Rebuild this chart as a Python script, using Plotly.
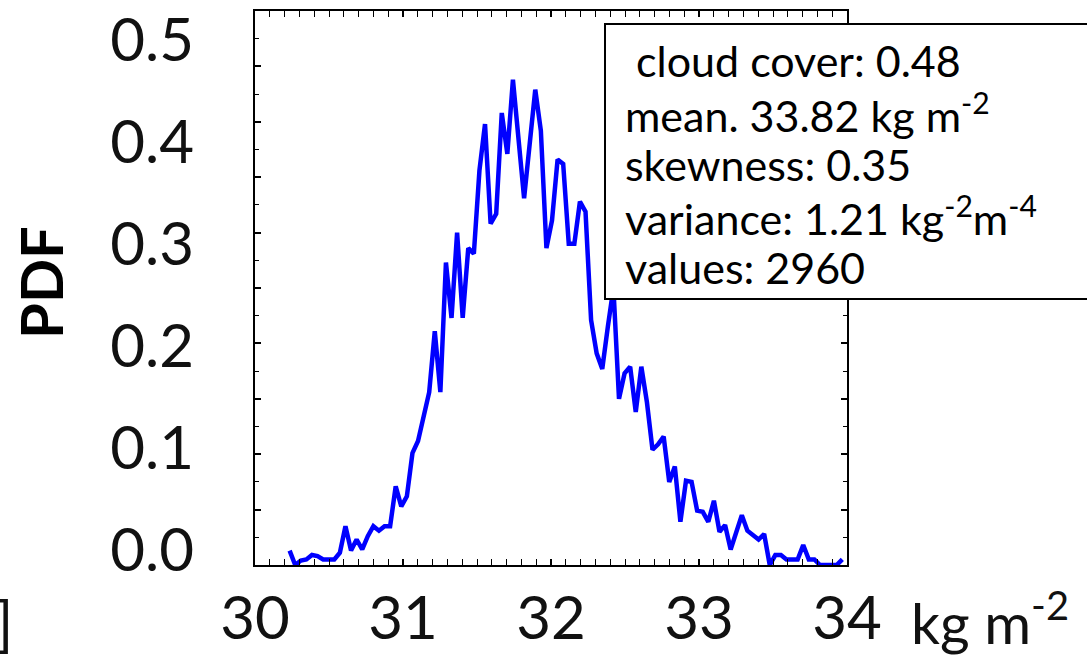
import numpy as np
import plotly.graph_objects as go

# Histogram of the column values: 100 bins, probability density per bin
bin_first_center = 30.234
bin_width = 0.03772
pdf = [0.013, 0.000, 0.004, 0.005, 0.009, 0.008, 0.005, 0.005, 0.005, 0.011,
       0.035, 0.013, 0.023, 0.014, 0.026, 0.035, 0.031, 0.035, 0.035, 0.071,
       0.053, 0.062, 0.101, 0.112, 0.134, 0.156, 0.211, 0.156, 0.273, 0.223,
       0.300, 0.223, 0.286, 0.281, 0.356, 0.398, 0.308, 0.317, 0.408, 0.371,
       0.438, 0.385, 0.331, 0.380, 0.429, 0.392, 0.286, 0.311, 0.366, 0.362,
       0.290, 0.290, 0.328, 0.319, 0.221, 0.191, 0.177, 0.215, 0.250, 0.150,
       0.173, 0.179, 0.138, 0.179, 0.147, 0.104, 0.109, 0.116, 0.075, 0.089,
       0.039, 0.076, 0.075, 0.049, 0.048, 0.039, 0.058, 0.030, 0.036, 0.014,
       0.030, 0.045, 0.031, 0.027, 0.023, 0.028, 0.000, 0.009, 0.009, 0.005,
       0.005, 0.005, 0.018, 0.005, 0.005, 0.000, 0.000, 0.000, 0.000, 0.005]
bin_centers = bin_first_center + bin_width * np.arange(len(pdf))

x_ticks = [30, 31, 32, 33, 34]
x_tick_labels = ["30", "31", "32", "33", "34"]
y_ticks = [0.0, 0.1, 0.2, 0.3, 0.4, 0.5]
y_tick_labels = ["0.0", "0.1", "0.2", "0.3", "0.4", "0.5"]

stats_lines = [
    " cloud cover: 0.48",
    "mean. 33.82 kg m<sup>-2</sup>",
    "skewness: 0.35",
    "variance: 1.21 kg<sup>-2</sup>m<sup>-4</sup>",
    "values: 2960",
]

W, H = 1087, 659
L, R, T, B = 255, 240, 11, 94
PW, PH = W - L - R, H - T - B

def px(xp):
    return (xp - L) / PW

def py(yp):
    return (H - B - yp) / PH

FONT = "Lato"
fig = go.Figure()

fig.add_trace(go.Scatter(
    x=bin_centers, y=pdf, mode="lines",
    line=dict(color="#0000ff", width=4.5),
    showlegend=False, hoverinfo="skip",
))
# carrier for the label-only y axis
fig.add_trace(go.Scatter(x=[None], y=[None], yaxis="y2", showlegend=False))

fig.update_layout(
    width=W, height=H, autosize=False,
    margin=dict(l=L, r=R, t=T, b=B, pad=0),
    plot_bgcolor="white", paper_bgcolor="white",
    font=dict(family=FONT, color="#111111"),
    xaxis=dict(
        range=[30, 34], tickvals=x_ticks, ticktext=x_tick_labels,
        ticks="inside", ticklen=6, tickwidth=1.5, tickcolor="black",
        minor=dict(dtick=0.1, ticks="inside", ticklen=3, tickwidth=1, tickcolor="black"),
        showline=True, linecolor="black", linewidth=2, mirror="allticks",
        showgrid=False, zeroline=False, automargin=False,
        tickfont=dict(size=60, family=FONT, color="#111111"),
        ticklabelstandoff=0,
    ),
    yaxis=dict(
        range=[0, 0.5], dtick=0.05, tick0=0, showticklabels=False,
        ticks="inside", ticklen=6, tickwidth=1.5, tickcolor="black",
        minor=dict(dtick=0.025, ticks="inside", ticklen=4, tickwidth=1, tickcolor="black"),
        showline=True, linecolor="black", linewidth=2, mirror="allticks",
        showgrid=False, zeroline=False, automargin=False,
    ),
    yaxis2=dict(
        overlaying="y", side="left", range=[-0.0147, 0.5287],
        tickvals=y_ticks, ticktext=y_tick_labels, ticks="",
        showline=False, showgrid=False, zeroline=False, automargin=False,
        tickfont=dict(size=60, family=FONT, color="#111111"),
        ticklabelstandoff=60,
    ),
)

# statistics box
fig.add_shape(type="rect", xref="paper", yref="paper",
              x0=px(605), x1=px(1100), y0=py(299), y1=py(24),
              line=dict(color="black", width=2), fillcolor="white", layer="above")

for i, line in enumerate(stats_lines):
    fig.add_annotation(xref="paper", yref="paper", x=px(623), y=py(61 + 51.5 * i),
                       xanchor="left", yanchor="middle", showarrow=False,
                       text=line, font=dict(size=43, family=FONT, color="black"))

# unit after the last x tick label
fig.add_annotation(xref="x", yref="paper", x=34, y=py(618), xshift=62,
                   xanchor="left", yanchor="middle", showarrow=False,
                   text="kg m<sup>-2</sup>",
                   font=dict(size=57, family=FONT, color="#111111"))

# y axis title
fig.add_annotation(xref="paper", yref="paper", x=px(40), y=py(283),
                   xanchor="center", yanchor="middle", showarrow=False, textangle=-90,
                   text="<b>PDF</b>", font=dict(size=58, family=FONT, color="black"))

# bracket at the lower left
fig.add_annotation(xref="paper", yref="paper", x=px(15), y=py(622),
                   xanchor="right", yanchor="middle", showarrow=False,
                   text="]", font=dict(size=60, family=FONT, color="#111111"))

fig.write_html("out.html")
